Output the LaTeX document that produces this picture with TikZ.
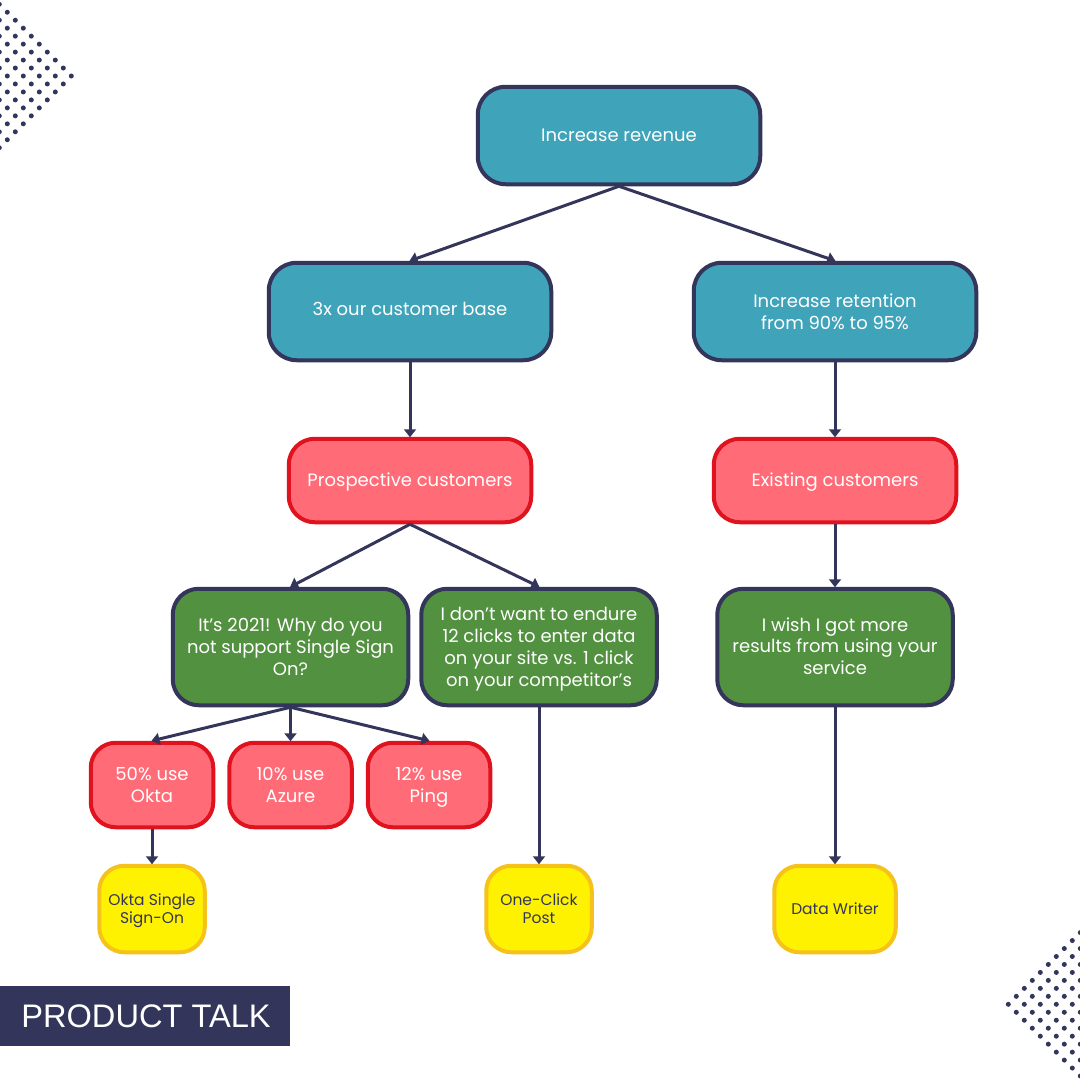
\documentclass[tikz,border=0pt]{standalone}
\usepackage{fontspec}
\setmainfont{Poppins}
\newfontfamily\bannerfont{Liberation Sans}
\usetikzlibrary{arrows.meta}
\definecolor{navy}{HTML}{33365A}
\definecolor{tealfill}{HTML}{3FA3BA}
\definecolor{redfill}{HTML}{FF6B77}
\definecolor{reddraw}{HTML}{E0121E}
\definecolor{greenfill}{HTML}{52913F}
\definecolor{yellowfill}{HTML}{FFF200}
\definecolor{yellowdraw}{HTML}{F4C21A}
\tikzset{link/.style={navy,line width=3pt,-{Triangle[length=8pt,width=12pt]},shorten >=-0.5pt}}

\begin{document}
\begin{tikzpicture}[x=1pt,y=-1pt]

\tikzset{box/.style={shape=rectangle,align=center,line width=4pt,inner sep=0pt,text=white,font=\fontsize{18}{21.8}\selectfont,execute at begin node=\rule{0pt}{1em},execute at end node=\strut},
multi/.style={text depth=0pt},
tealnode/.style={box,fill=tealfill,draw=navy,rounded corners=28pt,minimum width=282.5pt,minimum height=97.5pt},
rednode/.style={box,fill=redfill,draw=reddraw,rounded corners=26pt,minimum width=242.5pt,minimum height=83.5pt},
greennode/.style={box,multi,fill=greenfill,draw=navy,rounded corners=26pt,minimum width=235.5pt,minimum height=116.5pt},
smallnode/.style={box,multi,fill=redfill,draw=reddraw,rounded corners=25pt,minimum width=122.5pt,minimum height=84.5pt},
yellownode/.style={box,fill=yellowfill,draw=yellowdraw,text=navy,rounded corners=25pt,minimum height=86.5pt,font=\fontsize{15.5}{18}\selectfont}}

\useasboundingbox (0,0) rectangle (1080,1080);

% Dots
\foreach \k in {-9,...,9} \foreach \j in {0,...,5} \fill[navy] ({71.3-8*abs(\k)-16*\j},{76+7.97*\k}) circle[radius=2.5];
\foreach \k in {-9,...,9} \foreach \j in {0,...,5} \fill[navy] ({1008.3+8*abs(\k)+16*\j},{1004.3+7.97*\k}) circle[radius=2.5];

% Outcomes
\node[tealnode] (revenue) at (619,135.5) {Increase revenue};
\node[tealnode,text depth=10.5pt] (base) at (410,311.5) {3x our customer base};
\node[tealnode,multi] (retention) at (835,311.5) {Increase retention\\from 90\% to 95\%};

% Customers
\node[rednode] (prospective) at (410,480.5) {Prospective customers};
\node[rednode] (existing) at (835,480.5) {Existing customers};

% Opportunities
\node[greennode,text depth=-3.5pt] (sso) at (290.5,647) {It’s 2021! Why do you\\not support Single Sign\\On?};
\node[greennode] (clicks) at (539,647) {I don’t want to endure\\12 clicks to enter data\\on your site vs. 1 click\\on your competitor’s};
\node[greennode,text depth=2pt] (results) at (835,647) {I wish I got more\\results from using your\\service};

% Segments
\node[smallnode] (okta) at (152,785) {50\% use\\Okta};
\node[smallnode] (azure) at (290.5,785) {10\% use\\Azure};
\node[smallnode] (ping) at (429,785) {12\% use\\Ping};

% Solutions
\node[yellownode,multi,minimum width=105.5pt] (oktasso) at (152,909) {Okta Single\\Sign-On};
\node[yellownode,multi,minimum width=105.5pt] (oneclick) at (539,909) {One-Click\\Post};
\node[yellownode,minimum width=121.5pt] (writer) at (835,909) {Data Writer};

% Edges
\draw[link] (revenue.south) -- (base.north);
\draw[link] (revenue.south) -- (retention.north);
\draw[link] (base.south) -- (prospective.north);
\draw[link] (retention.south) -- (existing.north);
\draw[link] (prospective.south) -- (sso.north);
\draw[link] (prospective.south) -- (clicks.north);
\draw[link] (existing.south) -- (results.north);
\draw[link] (sso.south) -- (okta.north);
\draw[link] (sso.south) -- (azure.north);
\draw[link] (sso.south) -- (ping.north);
\draw[link] (okta.south) -- (oktasso.north);
\draw[link] (clicks.south) -- (oneclick.north);
\draw[link] (results.south) -- (writer.north);

% Banner
\node[fill=navy,text=white,minimum width=290pt,minimum height=60pt,inner sep=0pt,font=\bannerfont\fontsize{32.6}{33}\selectfont] (banner) at (145,1016) {\hspace*{2pt}PRODUCT TALK};

\end{tikzpicture}
\end{document}
